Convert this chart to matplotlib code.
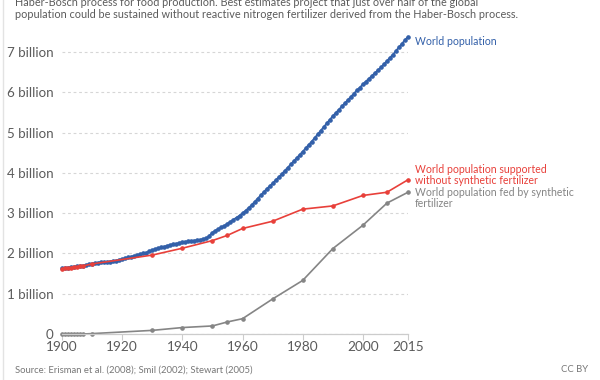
import matplotlib
matplotlib.use("Agg")
import matplotlib.pyplot as plt
from matplotlib.lines import Line2D
from matplotlib.ticker import FixedLocator

plt.rcParams['font.family'] = ['Lato', 'DejaVu Sans']

# ---- data (billions) ----
pop_years = list(range(1900, 2016))
world_population = [
    1.63, 1.64, 1.65, 1.66, 1.67, 1.68, 1.69, 1.70, 1.71, 1.73,
    1.75, 1.76, 1.77, 1.78, 1.79, 1.79, 1.80, 1.81, 1.82, 1.84,
    1.86, 1.88, 1.90, 1.92, 1.94, 1.96, 1.98, 2.00, 2.02, 2.05,
    2.08, 2.11, 2.13, 2.15, 2.17, 2.19, 2.21, 2.23, 2.24, 2.26,
    2.28, 2.29, 2.30, 2.31, 2.32, 2.33, 2.34, 2.36, 2.38, 2.44,
    2.52, 2.57, 2.61, 2.65, 2.69, 2.74, 2.79, 2.84, 2.89, 2.94,
    3.00, 3.06, 3.13, 3.20, 3.28, 3.36, 3.44, 3.52, 3.60, 3.67,
    3.74, 3.82, 3.89, 3.97, 4.05, 4.13, 4.21, 4.29, 4.37, 4.45,
    4.53, 4.61, 4.70, 4.78, 4.87, 4.96, 5.05, 5.14, 5.23, 5.32,
    5.41, 5.49, 5.57, 5.65, 5.73, 5.81, 5.89, 5.97, 6.05, 6.12,
    6.20, 6.27, 6.34, 6.41, 6.48, 6.55, 6.62, 6.70, 6.78, 6.86,
    6.94, 7.03, 7.12, 7.21, 7.30, 7.38,
]

fert_years = [1900, 1901, 1902, 1903, 1904, 1905, 1906, 1907, 1910,
              1930, 1940, 1950, 1955, 1960, 1970, 1980, 1990, 2000, 2008, 2015]
without_fertilizer = [1.62, 1.63, 1.64, 1.65, 1.66, 1.67, 1.68, 1.69, 1.74,
                      1.96, 2.13, 2.32, 2.45, 2.62, 2.80, 3.10, 3.18, 3.44, 3.52, 3.83]
fed_by_fertilizer = [0.0, 0.0, 0.0, 0.0, 0.0, 0.0, 0.0, 0.0, 0.01,
                     0.09, 0.16, 0.20, 0.30, 0.38, 0.87, 1.33, 2.12, 2.70, 3.25, 3.52]

y_ticks = [0, 1, 2, 3, 4, 5, 6, 7]
y_tick_labels = ["0", "1 billion", "2 billion", "3 billion", "4 billion",
                 "5 billion", "6 billion", "7 billion"]
x_ticks = [1900, 1920, 1940, 1960, 1980, 2000, 2015]

BLUE = "#3360a9"
RED = "#e8403a"
GRAY = "#858585"
TXT = "#5b5b5b"

W, H = 600, 380
fig = plt.figure(figsize=(6, 3.8), dpi=100)
ax = fig.add_axes([62 / W, (H - 334) / H, (408 - 62) / W, (334 - 36) / H])

ax.plot(pop_years, world_population, color=BLUE, lw=1.3, marker="o", ms=2.3,
        mec=BLUE, mfc=BLUE, clip_on=False, zorder=3)
ax.plot(fert_years, without_fertilizer, color=RED, lw=1.2, marker="o", ms=2.3,
        clip_on=False, zorder=4)
ax.plot(fert_years, fed_by_fertilizer, color=GRAY, lw=1.2, marker="o", ms=2.3,
        clip_on=False, zorder=2)

ax.set_xlim(1900, 2015)
ax.set_ylim(0, 7.4)
for s in ["top", "right", "left"]:
    ax.spines[s].set_visible(False)
ax.spines["bottom"].set_color("#cccccc")
ax.spines["bottom"].set_linewidth(0.9)

ax.yaxis.set_major_locator(FixedLocator(y_ticks))
ax.set_yticklabels(y_tick_labels)
ax.xaxis.set_major_locator(FixedLocator(x_ticks))
ax.set_xticklabels([str(x) for x in x_ticks])
ax.tick_params(axis="y", length=0, pad=6, labelsize=9.6, labelcolor=TXT)
ax.tick_params(axis="x", length=4, width=0.8, color="#cccccc", pad=1,
               labelsize=9.8, labelcolor=TXT)
ax.grid(axis="y", color="#d6d6d6", ls=(0, (2.5, 2.5)), lw=0.8)
ax.set_axisbelow(True)

# series labels
fs = 7.6
ax.annotate("World population", xy=(2015, world_population[-1]),
            xytext=(5, -3.5), textcoords="offset points", color=BLUE,
            fontsize=fs, va="center", ha="left", annotation_clip=False)
ax.annotate("World population supported\nwithout synthetic fertilizer",
            xy=(2015, without_fertilizer[-1]), xytext=(5, 3.4),
            textcoords="offset points", color=RED, fontsize=fs,
            va="center", ha="left", linespacing=1.0, annotation_clip=False)
ax.annotate("World population fed by synthetic\nfertilizer",
            xy=(2015, fed_by_fertilizer[-1]), xytext=(5, -4.1),
            textcoords="offset points", color=GRAY, fontsize=fs,
            va="center", ha="left", linespacing=1.0, annotation_clip=False)

# title text (cut off at top, as in the reference)
fig.text(15 / W, 1 - 2 / H,
         "Haber-Bosch process for food production. Best estimates project that just over half of the global",
         fontsize=7.8, color=TXT, ha="left", va="center")
fig.text(15 / W, 1 - 15 / H,
         "population could be sustained without reactive nitrogen fertilizer derived from the Haber-Bosch process.",
         fontsize=7.8, color=TXT, ha="left", va="center")

fig.text(15 / W, 1 - 370 / H,
         "Source: Erisman et al. (2008); Smil (2002); Stewart (2005)",
         fontsize=6.8, color="#777777", ha="left", va="center")
fig.text(588 / W, 1 - 370 / H, "CC BY", fontsize=6.8, color="#777777",
         ha="right", va="center")

fig.add_artist(Line2D([2.5 / W, 2.5 / W], [0, 1], transform=fig.transFigure,
                      color="#e3e3e3", lw=1))

fig.savefig("out.png", dpi=100)
